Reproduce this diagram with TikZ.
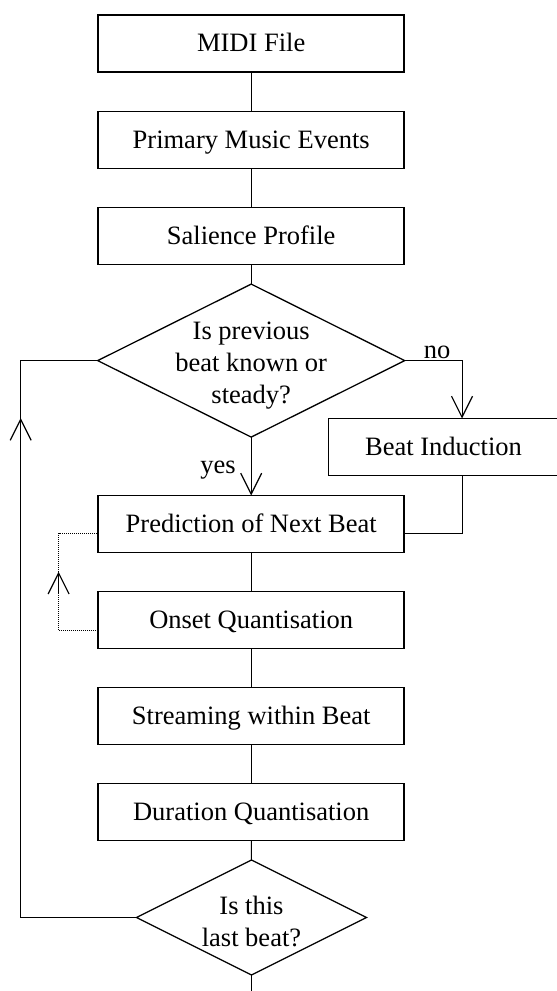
\documentclass[tikz,border=0pt]{standalone}
\usepackage{fontspec}
\setmainfont{Liberation Serif}
\usetikzlibrary{arrows.meta,shapes.geometric}
\begin{document}
\begin{tikzpicture}[x=1pt,y=-1pt,
  txt/.style={font=\fontsize{26.5}{31.7}\selectfont},
  box/.style={txt,draw,line width=1.5pt,minimum width=306pt,minimum height=57pt,
    inner sep=0pt,outer sep=0pt,text height=19pt,text depth=3pt},
  dec/.style={txt,draw,diamond,line width=1.3pt,inner sep=0pt,outer sep=0pt},
  conn/.style={line width=1pt},
  loopl/.style={line width=1.3pt},
  tip/.style={-{Straight Barb[length=21pt,width=21pt,line width=1.2pt]}},
  dots/.style={line width=1pt,dash pattern=on 1pt off 1pt},
  lbl/.style={txt,inner sep=0pt,anchor=base}]
\useasboundingbox (0,0) rectangle (557,991);
\node[box] (midi) at (251.2,43.7) {MIDI File};
\node[box] (prim) at (251.2,140) {Primary Music Events};
\node[box] (sal) at (251.2,236) {Salience Profile};
\node[dec,minimum width=307pt,minimum height=153pt] (d1) at (251.2,360.6)
  {\smash{\makebox[0pt]{\raisebox{-10.7pt}{\begin{tabular}{@{}c@{}}Is previous\\beat known or\\steady?\end{tabular}}}}};
\node[box,minimum width=230pt] (beat) at (443.5,447) {Beat Induction};
\node[box] (pred) at (251.2,524) {Prediction of Next Beat};
\node[box] (onset) at (251.2,620) {Onset Quantisation};
\node[box] (stream) at (251.2,716) {Streaming within Beat};
\node[box] (dur) at (251.2,812) {Duration Quantisation};
\node[dec,minimum width=230pt,minimum height=115pt] (d2) at (251.5,917.5)
  {\smash{\makebox[0pt]{\raisebox{-13pt}{\begin{tabular}{@{}c@{}}Is this\\last beat?\end{tabular}}}}};
% straight connectors
\draw[conn] (midi) -- (prim);
\draw[conn] (prim) -- (sal);
\draw[conn] (sal) -- (d1);
\draw[conn] (pred) -- (onset);
\draw[conn] (onset) -- (stream);
\draw[conn] (stream) -- (dur);
\draw[conn] (dur) -- (d2);
\coordinate (end) at (251.5,991);
\draw[conn] (d2.south) -- (end);
% yes / no
\draw[conn,tip] (d1.south) -- (pred.north);
\node[lbl] (yes) at (218,473) {yes};
\draw[conn,tip] (d1.east) -| ([xshift=18.5pt]beat.north);
\node[lbl] (no) at (437,358) {no};
\draw[conn] ([xshift=18.5pt]beat.south) |- ([yshift=-9.3pt]pred.east);
% loop back
\coordinate (lx) at (20.7,0);
\draw[loopl] (d2.west) -- (d2.west -| lx) -- (d1.west -| lx) -- (d1.west);
\coordinate (la1) at (20.7,440);
\coordinate (la2) at (20.7,418);
\draw[loopl,tip] (la1) -- (la2);
% dotted feedback
\coordinate (dx) at (58.6,0);
\coordinate (oe) at ([yshift=-10pt]onset.west);
\coordinate (pe) at ([yshift=-9.3pt]pred.west);
\draw[dots] (oe) -- (oe -| dx) -- (pe -| dx) -- (pe);
\coordinate (da1) at (58.6,593);
\coordinate (da2) at (58.6,571.7);
\draw[conn,tip] (da1) -- (da2);
\end{tikzpicture}
\end{document}
